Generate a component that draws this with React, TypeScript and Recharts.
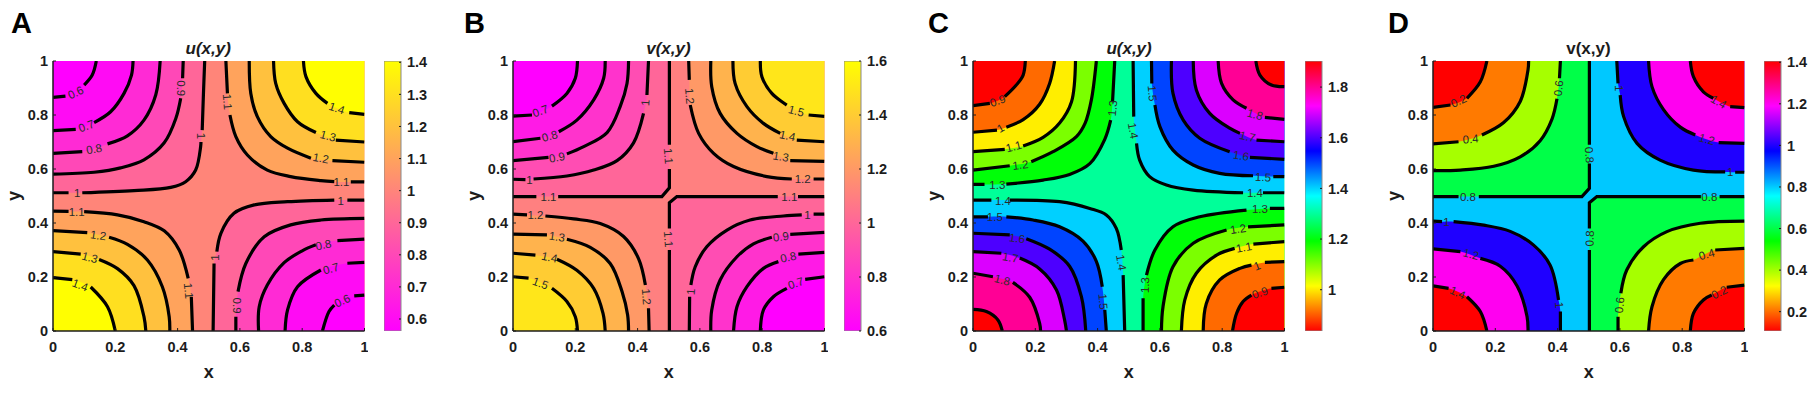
import { Area, Bar, ComposedChart, Line, Scatter, XAxis, YAxis } from 'recharts';

type Pt = [number, number] | null;
type Contour = { level: number; pts: Pt[]; sharp?: boolean };
type Tag = [number, number, string, number];

const axisTicks = [0, 0.2, 0.4, 0.6, 0.8, 1];

// contour lines, null = gap left for the inline label
const aTL: Contour[] = [
  { level: 1, pts: [[0, 0.512], [0.05, 0.512], null, [0.094, 0.512], [0.26, 0.52], [0.378, 0.532], [0.426, 0.553], [0.458, 0.596], [0.474, 0.683], [0.475, 0.7], null, [0.479, 0.744], [0.483, 0.88], [0.487, 1]] },
  { level: 0.9, pts: [[0, 0.581], [0.132, 0.588], [0.217, 0.604], [0.292, 0.634], [0.357, 0.697], [0.394, 0.786], [0.41, 0.862], null, [0.416, 0.936], [0.418, 1]] },
  { level: 0.8, pts: [[0, 0.658], [0.094, 0.664], null, [0.175, 0.693], [0.239, 0.723], [0.292, 0.781], [0.33, 0.875], [0.344, 1]] },
  { level: 0.7, pts: [[0, 0.742], [0.073, 0.747], null, [0.132, 0.772], [0.185, 0.812], [0.228, 0.88], [0.252, 0.948], [0.257, 1]] },
  { level: 0.6, pts: [[0, 0.865], [0.04, 0.87], null, [0.1, 0.911], [0.126, 0.948], [0.139, 1]] },
];
const aTR: Contour[] = [
  { level: 1.1, pts: [[0.555, 1], [0.56, 0.88], null, [0.568, 0.8], [0.587, 0.72], [0.624, 0.652], [0.688, 0.596], [0.763, 0.572], [0.86, 0.557], [0.903, 0.553], null, [0.956, 0.552], [1, 0.552]] },
  { level: 1.2, pts: [[0.63, 1], [0.635, 0.88], [0.656, 0.794], [0.699, 0.72], [0.753, 0.677], [0.828, 0.64], null, [0.897, 0.631], [1, 0.625]] },
  { level: 1.3, pts: [[0.708, 1], [0.715, 0.917], [0.742, 0.843], [0.785, 0.775], [0.844, 0.735], null, [0.908, 0.707], [1, 0.7]] },
  { level: 1.4, pts: [[0.804, 1], [0.812, 0.942], [0.844, 0.88], [0.881, 0.843], null, [0.951, 0.809], [1, 0.802]] },
];
const aBL: Contour[] = [
  { level: 1.1, pts: [[0, 0.444], [0.05, 0.443], null, [0.1, 0.442], [0.207, 0.43], [0.292, 0.405], [0.357, 0.371], [0.405, 0.3], [0.434, 0.195], null, [0.444, 0.127], [0.448, 0]] },
  { level: 1.2, pts: [[0, 0.372], [0.11, 0.364], null, [0.18, 0.347], [0.239, 0.321], [0.303, 0.263], [0.351, 0.164], [0.373, 0.053], [0.375, 0]] },
  { level: 1.3, pts: [[0, 0.294], [0.089, 0.285], null, [0.148, 0.265], [0.207, 0.231], [0.26, 0.168], [0.292, 0.053], [0.298, 0]] },
  { level: 1.4, pts: [[0, 0.198], [0.062, 0.19], null, [0.121, 0.163], [0.175, 0.09], [0.2, 0]] },
];
const aBR: Contour[] = [
  { level: 1, pts: [[0.514, 0], [0.517, 0.25], null, [0.526, 0.294], [0.539, 0.362], [0.581, 0.436], [0.646, 0.467], [0.753, 0.479], [0.903, 0.485], null, [0.945, 0.485], [1, 0.485]] },
  { level: 0.9, pts: [[0.587, 0], [0.587, 0.053], null, [0.594, 0.146], [0.619, 0.25], [0.678, 0.349], [0.763, 0.393], [0.86, 0.411], [1, 0.417]] },
  { level: 0.8, pts: [[0.66, 0], [0.662, 0.09], [0.688, 0.17], [0.742, 0.253], [0.8, 0.297], [0.844, 0.319], null, [0.913, 0.335], [1, 0.34]] },
  { level: 0.7, pts: [[0.745, 0], [0.753, 0.078], [0.785, 0.164], [0.86, 0.226], null, [0.945, 0.251], [1, 0.254]] },
  { level: 0.6, pts: [[0.865, 0], [0.886, 0.072], [0.903, 0.096], null, [0.967, 0.13], [1, 0.133]] },
];
const aTags: Tag[] = [
  [0.073, 0.883, '0.6', -25], [0.107, 0.759, '0.7', -20], [0.132, 0.674, '0.8', -10], [0.41, 0.899, '0.9', 90],
  [0.474, 0.722, '1', 90], [0.078, 0.512, '1', 0], [0.56, 0.849, '1.1', 85], [0.911, 0.825, '1.4', 18],
  [0.883, 0.722, '1.3', 15], [0.86, 0.64, '1.2', 10], [0.926, 0.551, '1.1', 0], [0.924, 0.481, '1', 0],
  [0.076, 0.442, '1.1', 0], [0.145, 0.354, '1.2', 8], [0.118, 0.272, '1.3', 15], [0.087, 0.17, '1.4', 20],
  [0.435, 0.149, '1.1', 85], [0.52, 0.272, '1', -90], [0.59, 0.094, '0.9', 90], [0.868, 0.319, '0.8', -12],
  [0.892, 0.231, '0.7', -15], [0.929, 0.112, '0.6', -25],
];

const bTL: Contour[] = [
  { level: 1.1, sharp: true, pts: [[0, 0.498], [0.075, 0.498], null, [0.145, 0.498], [0.478, 0.498], [0.502, 0.53], [0.502, 0.6], null, [0.502, 0.69], [0.502, 1]] },
  { level: 1, pts: [[0, 0.562], [0.04, 0.561], null, [0.066, 0.563], [0.173, 0.574], [0.259, 0.596], [0.334, 0.631], [0.387, 0.697], [0.419, 0.806], null, [0.43, 0.874], [0.435, 1]] },
  { level: 0.9, pts: [[0, 0.631], [0.114, 0.643], null, [0.173, 0.656], [0.227, 0.683], [0.302, 0.735], [0.344, 0.831], [0.366, 0.917], [0.371, 1]] },
  { level: 0.8, pts: [[0, 0.701], [0.088, 0.714], null, [0.147, 0.738], [0.205, 0.781], [0.259, 0.856], [0.291, 0.936], [0.296, 1]] },
  { level: 0.7, pts: [[0, 0.796], [0.061, 0.8], null, [0.125, 0.833], [0.173, 0.88], [0.2, 0.936], [0.207, 1]] },
];
const bTR: Contour[] = [
  { level: 1.2, pts: [[0.564, 1], [0.566, 0.93], null, [0.569, 0.837], [0.596, 0.732], [0.644, 0.658], [0.708, 0.609], [0.815, 0.572], [0.895, 0.563], null, [0.965, 0.563], [1, 0.563]] },
  { level: 1.3, pts: [[0.635, 1], [0.638, 0.905], [0.665, 0.806], [0.719, 0.732], [0.783, 0.683], [0.836, 0.658], null, [0.89, 0.631], [1, 0.628]] },
  { level: 1.4, pts: [[0.706, 1], [0.713, 0.917], [0.751, 0.831], [0.804, 0.769], [0.858, 0.732], null, [0.911, 0.707], [1, 0.701]] },
  { level: 1.5, pts: [[0.794, 1], [0.799, 0.942], [0.831, 0.88], [0.879, 0.837], null, [0.949, 0.8], [1, 0.795]] },
];
const bBL: Contour[] = [
  { level: 1.2, pts: [[0, 0.433], [0.045, 0.43], null, [0.104, 0.426], [0.195, 0.415], [0.28, 0.398], [0.355, 0.35], [0.403, 0.268], [0.425, 0.17], null, [0.435, 0.084], [0.437, 0]] },
  { level: 1.3, pts: [[0, 0.359], [0.109, 0.356], null, [0.173, 0.34], [0.248, 0.31], [0.312, 0.25], [0.35, 0.146], [0.368, 0.059], [0.371, 0]] },
  { level: 1.4, pts: [[0, 0.288], [0.072, 0.281], null, [0.141, 0.266], [0.205, 0.225], [0.259, 0.158], [0.289, 0.065], [0.296, 0]] },
  { level: 1.5, pts: [[0, 0.201], [0.05, 0.196], null, [0.125, 0.158], [0.173, 0.109], [0.2, 0.053], [0.207, 0]] },
];
const bBR: Contour[] = [
  { level: 1.1, sharp: true, pts: [[0.502, 0], [0.502, 0.3], null, [0.502, 0.38], [0.502, 0.475], [0.526, 0.498], [0.85, 0.498], null, [0.915, 0.498], [1, 0.498]] },
  { level: 1, pts: [[0.566, 0], [0.567, 0.127], null, [0.571, 0.17], [0.585, 0.238], [0.622, 0.312], [0.687, 0.374], [0.761, 0.411], [0.868, 0.426], [0.927, 0.43], null, [0.965, 0.433], [1, 0.433]] },
  { level: 0.9, pts: [[0.635, 0], [0.638, 0.078], [0.665, 0.189], [0.719, 0.275], [0.772, 0.323], [0.831, 0.347], null, [0.89, 0.358], [1, 0.365]] },
  { level: 0.8, pts: [[0.708, 0], [0.719, 0.09], [0.751, 0.164], [0.804, 0.232], [0.852, 0.257], null, [0.916, 0.285], [1, 0.291]] },
  { level: 0.7, pts: [[0.794, 0], [0.804, 0.078], [0.836, 0.127], [0.879, 0.158], null, [0.938, 0.191], [1, 0.201]] },
];
const bTags: Tag[] = [
  [0.088, 0.815, '0.7', -20], [0.118, 0.722, '0.8', -15], [0.141, 0.643, '0.9', -10], [0.053, 0.559, '1', 0],
  [0.114, 0.498, '1.1', 0], [0.425, 0.846, '1', -85], [0.567, 0.87, '1.2', 85], [0.499, 0.648, '1.1', 85],
  [0.909, 0.815, '1.5', 15], [0.881, 0.723, '1.4', 12], [0.86, 0.646, '1.3', 10], [0.93, 0.563, '1.2', 0],
  [0.887, 0.498, '1.1', 0], [0.945, 0.43, '1', 0], [0.072, 0.43, '1.2', 0], [0.141, 0.349, '1.3', 8],
  [0.117, 0.273, '1.4', 12], [0.088, 0.177, '1.5', 20], [0.428, 0.127, '1.2', 85], [0.499, 0.34, '1.1', 85],
  [0.571, 0.146, '1', -85], [0.86, 0.349, '0.9', -8], [0.884, 0.273, '0.8', -12], [0.908, 0.177, '0.7', -18],
];

const cTL: Contour[] = [
  { level: 1.3, pts: [[0, 0.543], [0.037, 0.543], null, [0.107, 0.544], [0.225, 0.559], [0.31, 0.58], [0.375, 0.62], [0.423, 0.71], [0.442, 0.781], null, [0.448, 0.849], [0.455, 1]] },
  { level: 1.2, pts: [[0, 0.596], [0.118, 0.612], null, [0.187, 0.627], [0.257, 0.664], [0.332, 0.72], [0.36, 0.77], [0.38, 0.856], [0.396, 1]] },
  { level: 1.1, pts: [[0, 0.664], [0.102, 0.673], null, [0.161, 0.685], [0.225, 0.717], [0.278, 0.77], [0.316, 0.848], [0.329, 1]] },
  { level: 1, pts: [[0, 0.736], [0.077, 0.744], null, [0.107, 0.755], [0.161, 0.783], [0.214, 0.84], [0.246, 0.917], [0.262, 1]] },
  { level: 0.9, pts: [[0, 0.835], [0.054, 0.843], null, [0.102, 0.868], [0.139, 0.911], [0.161, 0.948], [0.168, 1]] },
];
const cTR: Contour[] = [
  { level: 1.4, pts: [[0.514, 1], [0.516, 0.794], null, [0.525, 0.695], [0.535, 0.633], [0.567, 0.572], [0.621, 0.541], [0.707, 0.522], [0.867, 0.512], null, [0.931, 0.512], [1, 0.512]] },
  { level: 1.5, pts: [[0.573, 1], [0.574, 0.917], null, [0.584, 0.837], [0.6, 0.757], [0.642, 0.67], [0.707, 0.615], [0.792, 0.584], [0.899, 0.575], null, [0.964, 0.572], [1, 0.572]] },
  { level: 1.6, pts: [[0.637, 1], [0.642, 0.88], [0.675, 0.781], [0.728, 0.714], [0.824, 0.664], null, [0.889, 0.643], [1, 0.636]] },
  { level: 1.7, pts: [[0.707, 1], [0.717, 0.893], [0.76, 0.806], [0.824, 0.751], [0.857, 0.732], null, [0.91, 0.707], [1, 0.701]] },
  { level: 1.8, pts: [[0.787, 1], [0.798, 0.917], [0.835, 0.856], [0.878, 0.825], null, [0.937, 0.791], [1, 0.784]] },
  { level: 1.9, pts: [[0.908, 1], [0.921, 0.948], [0.958, 0.911], [1, 0.905]] },
];
const cBL: Contour[] = [
  { level: 1.4, pts: [[0, 0.485], [0.059, 0.485], null, [0.118, 0.485], [0.278, 0.479], [0.375, 0.454], [0.428, 0.43], [0.46, 0.38], [0.476, 0.3], null, [0.482, 0.207], [0.487, 0]] },
  { level: 1.5, pts: [[0, 0.423], [0.048, 0.423], null, [0.107, 0.423], [0.193, 0.411], [0.278, 0.386], [0.353, 0.333], [0.396, 0.258], [0.415, 0.164], null, [0.423, 0.078], [0.428, 0]] },
  { level: 1.6, pts: [[0, 0.362], [0.118, 0.356], null, [0.171, 0.342], [0.246, 0.303], [0.31, 0.24], [0.348, 0.127], [0.362, 0]] },
  { level: 1.7, pts: [[0, 0.294], [0.091, 0.288], null, [0.15, 0.27], [0.214, 0.23], [0.268, 0.152], [0.294, 0.041], [0.3, 0]] },
  { level: 1.8, pts: [[0, 0.214], [0.064, 0.201], null, [0.128, 0.18], [0.182, 0.125], [0.214, 0.028], [0.217, 0]] },
  { level: 1.9, pts: [[0, 0.08], [0.043, 0.072], [0.08, 0.041], [0.094, 0]] },
];
const cBR: Contour[] = [
  { level: 1.3, pts: [[0.546, 0], [0.546, 0.121], null, [0.557, 0.207], [0.584, 0.3], [0.642, 0.386], [0.728, 0.423], [0.878, 0.448], null, [0.953, 0.454], [1, 0.454]] },
  { level: 1.2, pts: [[0.605, 0], [0.61, 0.09], [0.642, 0.238], [0.707, 0.325], [0.814, 0.374], null, [0.883, 0.386], [1, 0.393]] },
  { level: 1.1, pts: [[0.669, 0], [0.68, 0.115], [0.717, 0.214], [0.782, 0.281], [0.84, 0.306], null, [0.9, 0.322], [1, 0.331]] },
  { level: 1, pts: [[0.739, 0], [0.749, 0.102], [0.792, 0.189], [0.857, 0.232], [0.894, 0.244], null, [0.937, 0.254], [1, 0.257]] },
  { level: 0.9, pts: [[0.833, 0], [0.846, 0.065], [0.867, 0.109], [0.894, 0.133], null, [0.958, 0.158], [1, 0.162]] },
];
const cTags: Tag[] = [
  [0.079, 0.853, '0.9', -20], [0.088, 0.751, '1', -30], [0.131, 0.683, '1.1', -15], [0.152, 0.615, '1.2', -7],
  [0.078, 0.542, '1.3', 0], [0.448, 0.825, '1.3', -85], [0.514, 0.742, '1.4', 80], [0.576, 0.88, '1.5', 85],
  [0.905, 0.802, '1.8', 15], [0.881, 0.72, '1.7', 12], [0.86, 0.649, '1.6', 8], [0.931, 0.57, '1.5', 3],
  [0.905, 0.512, '1.4', 0], [0.921, 0.452, '1.3', 0], [0.851, 0.378, '1.2', -8], [0.87, 0.31, '1.1', -10],
  [0.912, 0.241, '1', -20], [0.921, 0.142, '0.9', -18], [0.096, 0.48, '1.4', 0], [0.07, 0.421, '1.5', 0],
  [0.141, 0.343, '1.6', 8], [0.12, 0.272, '1.7', 10], [0.094, 0.189, '1.8', 15], [0.476, 0.254, '1.4', 80],
  [0.418, 0.109, '1.5', 85], [0.552, 0.17, '1.3', -88],
];

const dTL: Contour[] = [
  { level: 0.8, sharp: true, pts: [[0, 0.498], [0.082, 0.498], null, [0.147, 0.498], [0.478, 0.498], [0.502, 0.528], [0.502, 0.62], null, [0.502, 0.69], [0.502, 1]] },
  { level: 0.6, pts: [[0, 0.594], [0.088, 0.596], [0.195, 0.61], [0.28, 0.645], [0.344, 0.705], [0.382, 0.785], [0.398, 0.86], null, [0.406, 0.936], [0.409, 1]] },
  { level: 0.4, pts: [[0, 0.693], [0.082, 0.701], null, [0.157, 0.726], [0.227, 0.772], [0.28, 0.85], [0.305, 0.967], [0.307, 1]] },
  { level: 0.2, pts: [[0, 0.828], [0.056, 0.837], null, [0.109, 0.862], [0.152, 0.923], [0.173, 1]] },
];
const dTR: Contour[] = [
  { level: 1, pts: [[0.59, 1], [0.594, 0.917], null, [0.601, 0.874], [0.612, 0.794], [0.655, 0.695], [0.729, 0.633], [0.836, 0.596], [0.938, 0.589], null, [0.97, 0.588], [1, 0.588]] },
  { level: 1.2, pts: [[0.692, 1], [0.703, 0.905], [0.74, 0.82], [0.794, 0.755], [0.842, 0.726], null, [0.917, 0.698], [1, 0.695]] },
  { level: 1.4, pts: [[0.826, 1], [0.836, 0.942], [0.868, 0.886], [0.9, 0.862], null, [0.954, 0.831], [1, 0.827]] },
];
const dBL: Contour[] = [
  { level: 1, pts: [[0, 0.407], [0.029, 0.405], null, [0.066, 0.405], [0.163, 0.392], [0.248, 0.369], [0.323, 0.318], [0.376, 0.244], [0.403, 0.115], null, [0.409, 0.072], [0.409, 0]] },
  { level: 1.2, pts: [[0, 0.304], [0.088, 0.294], null, [0.152, 0.269], [0.216, 0.24], [0.27, 0.167], [0.302, 0.053], [0.305, 0]] },
  { level: 1.4, pts: [[0, 0.167], [0.05, 0.158], null, [0.109, 0.127], [0.152, 0.072], [0.173, 0]] },
];
const dBR: Contour[] = [
  { level: 0.8, sharp: true, pts: [[0.502, 0], [0.502, 0.3], null, [0.502, 0.38], [0.502, 0.475], [0.526, 0.498], [0.86, 0.498], null, [0.92, 0.498], [1, 0.498]] },
  { level: 0.6, pts: [[0.594, 0], [0.594, 0.053], null, [0.603, 0.14], [0.622, 0.226], [0.676, 0.312], [0.751, 0.368], [0.858, 0.399], [1, 0.407]] },
  { level: 0.4, pts: [[0.692, 0], [0.703, 0.09], [0.74, 0.19], [0.794, 0.25], [0.836, 0.263], null, [0.906, 0.3], [1, 0.306]] },
  { level: 0.2, pts: [[0.826, 0], [0.836, 0.065], [0.868, 0.115], [0.895, 0.133], null, [0.943, 0.162], [1, 0.17]] },
];
const dTags: Tag[] = [
  [0.082, 0.852, '0.2', -25], [0.121, 0.711, '0.4', -5], [0.403, 0.899, '0.6', -85], [0.502, 0.652, '0.8', 85],
  [0.112, 0.498, '0.8', 0], [0.596, 0.899, '1', 90], [0.917, 0.849, '1.4', 30], [0.879, 0.71, '1.2', 15],
  [0.954, 0.589, '1', 0], [0.887, 0.498, '0.8', 0], [0.043, 0.405, '1', 0], [0.122, 0.284, '1.2', 15],
  [0.079, 0.142, '1.4', 25], [0.405, 0.096, '1', 85], [0.503, 0.343, '0.8', -88], [0.599, 0.096, '0.6', -85],
  [0.879, 0.284, '0.4', -15], [0.919, 0.143, '0.2', -25],
];

// colour of a filled band, keyed by its lower level
const bandsA: Record<string, string> = {
  '0.5': '#FF00FF', '0.6': '#FF0BF4', '0.7': '#FF2AD5', '0.8': '#FF48B7', '0.9': '#FF6699',
  '1.0': '#FF8579', '1.1': '#FFA35C', '1.2': '#FFC13E', '1.3': '#FFDF20', '1.4': '#FFFE01',
};
const bandsB: Record<string, string> = {
  '0.6': '#FF00FF', '0.7': '#FF1AE6', '0.8': '#FF33CC', '0.9': '#FF4DB3', '1.0': '#FF6699',
  '1.1': '#FF8080', '1.2': '#FF9966', '1.3': '#FFB34D', '1.4': '#FFCC33', '1.5': '#FFE61A',
};
const bandsC: Record<string, string> = {
  '0.8': '#FF0000', '0.9': '#FF6A00', '1.0': '#FFEE00', '1.1': '#7BFF00', '1.2': '#00FF08', '1.3': '#00FF99',
  '1.4': '#00D0FF', '1.5': '#0044FF', '1.6': '#4D00FF', '1.7': '#DB00FF', '1.8': '#FF0095', '1.9': '#FF0000',
};
const bandsD: Record<string, string> = {
  '0.0': '#FF0000', '0.2': '#FF7A00', '0.4': '#A6FF00', '0.6': '#00FF48', '0.8': '#00C8FF',
  '1.0': '#1F00FF', '1.2': '#FF00F0', '1.4': '#FF0000',
};

const springStops = ['#FF00FF', '#FFFF00'];
const hsvStops = ['#FF0000', '#FFFF00', '#00FF00', '#00FFFF', '#0000FF', '#FF00FF', '#FF0000'];

const ticksA = [0.6, 0.7, 0.8, 0.9, 1, 1.1, 1.2, 1.3, 1.4];
const ticksB = [0.6, 0.8, 1, 1.2, 1.4, 1.6];
const ticksC = [1, 1.2, 1.4, 1.6, 1.8];
const ticksD = [0.2, 0.4, 0.6, 0.8, 1, 1.2, 1.4];

const font = '"Liberation Sans", Arial, sans-serif';
const ink = '#1c1c1c';
const plotTop = 61;
const plotBottom = 331;
const plotWidth = 311.5;

// centripetal Catmull-Rom, the contours go near vertical at their ends
const smooth = (ctx: any) => {
  let line = NaN;
  let pts: number[][] = [];
  const ctrl = (a: number[], b: number[], c: number[], i: number) => {
    const d1 = Math.sqrt(Math.hypot(b[0] - a[0], b[1] - a[1]));
    const d2 = Math.sqrt(Math.hypot(c[0] - b[0], c[1] - b[1]));
    if (d1 < 1e-6) return b[i];
    return (d1 * d1 * c[i] - d2 * d2 * a[i] + (2 * d1 * d1 + 3 * d1 * d2 + d2 * d2) * b[i]) / (3 * d1 * (d1 + d2));
  };
  return {
    areaStart() {
      line = 0;
    },
    areaEnd() {
      line = NaN;
    },
    lineStart() {
      pts = [];
    },
    lineEnd() {
      pts.forEach((p, i) => {
        if (i === 0) {
          if (line) ctx.lineTo(p[0], p[1]);
          else ctx.moveTo(p[0], p[1]);
          return;
        }
        const p0 = pts[Math.max(i - 2, 0)];
        const p1 = pts[i - 1];
        const p3 = pts[Math.min(i + 1, pts.length - 1)];
        ctx.bezierCurveTo(ctrl(p0, p1, p, 0), ctrl(p0, p1, p, 1), ctrl(p3, p, p1, 0), ctrl(p3, p, p1, 1), p[0], p[1]);
      });
      if (line || (line !== 0 && pts.length === 1)) ctx.closePath();
      line = 1 - line;
    },
    point(x: number, y: number) {
      pts.push([+x, +y]);
    },
  };
};

const toLineRows = (pts: Pt[]) => {
  let lastX = 0;
  return pts.map((p) => {
    if (!p) return { x: lastX, y: null };
    lastX = p[0];
    return { x: p[0], y: p[1] };
  });
};

const toFillRows = (pts: Pt[], upper: boolean) =>
  pts.filter((p): p is [number, number] => !!p).map(([x, y]) => ({ x, r: upper ? [y, 1] : [0, y] }));

const TagMark = (props: any) => {
  const { cx, cy, payload } = props;
  return (
    <text
      x={cx}
      y={cy}
      transform={`rotate(${payload.angle} ${cx} ${cy})`}
      textAnchor="middle"
      dominantBaseline="central"
      fontFamily={font}
      fontSize={11.5}
      fill="#2a2a2a"
    >
      {payload.text}
    </text>
  );
};

type PanelProps = {
  letter: string;
  letterLeft: number;
  title: string;
  italic: boolean;
  left: number;
  step: number;
  center: string;
  bands: Record<string, string>;
  tl: Contour[];
  tr: Contour[];
  bl: Contour[];
  br: Contour[];
  tags: Tag[];
  barLeft: number;
  barDomain: [number, number];
  barTicks: number[];
  stops: string[];
};

function ContourPanel(p: PanelProps) {
  const axisLeft = 52;
  const low = (c: Contour) => p.bands[(c.level - p.step).toFixed(1)];
  const high = (c: Contour) => p.bands[c.level.toFixed(1)];
  const fills = [
    ...p.tl.map((c) => ({ c, upper: true, color: low(c) })),
    ...p.br.map((c) => ({ c, upper: false, color: low(c) })),
    ...p.tr.map((c) => ({ c, upper: true, color: high(c) })),
    ...p.bl.map((c) => ({ c, upper: false, color: high(c) })),
  ];
  const lines = [...p.tl, ...p.tr, ...p.bl, ...p.br];
  const tagRows = p.tags.map(([x, y, text, angle]) => ({ x, y, text, angle }));
  const gradId = `bar-${p.letter}`;
  const axisStyle = { fontFamily: font, fontSize: 14.5, fontWeight: 700, fill: ink };

  return (
    <>
      <div style={{ position: 'absolute', left: p.letterLeft, top: 7, fontFamily: font, fontWeight: 700, fontSize: 29, lineHeight: '32px', color: '#000' }}>
        {p.letter}
      </div>
      <div
        style={{
          position: 'absolute',
          left: p.left,
          width: plotWidth,
          top: 39,
          textAlign: 'center',
          fontFamily: font,
          fontWeight: 700,
          fontStyle: p.italic ? 'italic' : 'normal',
          fontSize: 17,
          lineHeight: '20px',
          color: ink,
        }}
      >
        {p.title}
      </div>
      <div style={{ position: 'absolute', left: p.left - axisLeft, top: 0 }}>
        <ComposedChart
          width={axisLeft + plotWidth + 4}
          height={397}
          margin={{ top: plotTop, right: 4, bottom: 0, left: 0 }}
        >
          <XAxis
            dataKey="x"
            type="number"
            domain={[0, 1]}
            ticks={axisTicks}
            interval={0}
            allowDataOverflow
            height={397 - plotBottom}
            tickSize={-3}
            tickMargin={14}
            tick={axisStyle}
            axisLine={{ stroke: ink, strokeWidth: 1.5 }}
            tickLine={{ stroke: ink, strokeWidth: 1 }}
            label={{ value: 'x', position: 'insideBottom', offset: 19, style: { ...axisStyle, fontSize: 18 } }}
          />
          <YAxis
            type="number"
            domain={[0, 1]}
            ticks={axisTicks}
            interval={0}
            allowDataOverflow
            width={axisLeft}
            tickSize={-3}
            tickMargin={8}
            tick={axisStyle}
            axisLine={{ stroke: ink, strokeWidth: 1.5 }}
            tickLine={{ stroke: ink, strokeWidth: 1 }}
            label={{ value: 'y', angle: -90, position: 'insideLeft', offset: 13, style: { ...axisStyle, fontSize: 18, textAnchor: 'middle' } }}
          />
          <Area
            data={[{ x: 0, r: [0, 1] }, { x: 1, r: [0, 1] }]}
            dataKey="r"
            type="linear"
            stroke="none"
            fill={p.center}
            fillOpacity={1}
            dot={false}
            activeDot={false}
            isAnimationActive={false}
          />
          {fills.map(({ c, upper, color }, i) => (
            <Area
              key={`f${i}`}
              data={toFillRows(c.pts, upper)}
              dataKey="r"
              type={c.sharp ? 'linear' : (smooth as any)}
              stroke="none"
              fill={color}
              fillOpacity={1}
              dot={false}
              activeDot={false}
              isAnimationActive={false}
            />
          ))}
          {lines.map((c, i) => (
            <Line
              key={`l${i}`}
              data={toLineRows(c.pts)}
              dataKey="y"
              type={c.sharp ? 'linear' : (smooth as any)}
              stroke="#000"
              strokeWidth={3.2}
              dot={false}
              activeDot={false}
              isAnimationActive={false}
            />
          ))}
          <Scatter data={tagRows} dataKey="y" shape={TagMark} isAnimationActive={false} />
        </ComposedChart>
      </div>
      <div style={{ position: 'absolute', left: p.barLeft, top: 0 }}>
        <ComposedChart
          width={70}
          height={397}
          data={[{ name: 'scale', range: p.barDomain }]}
          margin={{ top: plotTop, right: 0, bottom: 397 - plotBottom, left: 0 }}
          barCategoryGap={0}
        >
          <defs>
            <linearGradient id={gradId} x1="0" y1="1" x2="0" y2="0">
              {p.stops.map((s, i) => (
                <stop key={i} offset={i / (p.stops.length - 1)} stopColor={s} />
              ))}
            </linearGradient>
          </defs>
          <XAxis dataKey="name" hide />
          <YAxis
            orientation="right"
            type="number"
            domain={p.barDomain}
            ticks={p.barTicks}
            interval={0}
            allowDataOverflow
            width={53}
            tickSize={-2}
            tickMargin={8}
            tick={axisStyle}
            axisLine={false}
            tickLine={{ stroke: ink, strokeWidth: 1 }}
          />
          <Bar dataKey="range" fill={`url(#${gradId})`} stroke="#8a8a8a" strokeWidth={1} isAnimationActive={false} />
        </ComposedChart>
      </div>
    </>
  );
}

export default function App() {
  return (
    <div style={{ position: 'absolute', left: 0, top: 0, width: 1814, height: 397, background: '#fff', overflow: 'hidden' }}>
      <ContourPanel letter="A" letterLeft={11} title="u(x,y)" italic left={52.5} step={0.1} center={bandsA['1.0']} bands={bandsA} tl={aTL} tr={aTR} bl={aBL} br={aBR} tags={aTags} barLeft={384} barDomain={[0.5626, 1.404]} barTicks={ticksA} stops={springStops} />
      <ContourPanel letter="B" letterLeft={464} title="v(x,y)" italic left={512.7} step={0.1} center={bandsB['1.1']} bands={bandsB} tl={bTL} tr={bTR} bl={bBL} br={bBR} tags={bTags} barLeft={844} barDomain={[0.6, 1.6]} barTicks={ticksB} stops={springStops} />
      <ContourPanel letter="C" letterLeft={928} title="u(x,y)" italic left={973.3} step={0.1} center={bandsC['1.3']} bands={bandsC} tl={cTL} tr={cTR} bl={cBL} br={cBR} tags={cTags} barLeft={1304.7} barDomain={[0.837, 1.903]} barTicks={ticksC} stops={hsvStops} />
      <ContourPanel letter="D" letterLeft={1388} title="v(x,y)" italic={false} left={1432.7} step={0.2} center={bandsD['0.8']} bands={bandsD} tl={dTL} tr={dTR} bl={dBL} br={dBR} tags={dTags} barLeft={1764} barDomain={[0.107, 1.406]} barTicks={ticksD} stops={hsvStops} />
    </div>
  );
}
